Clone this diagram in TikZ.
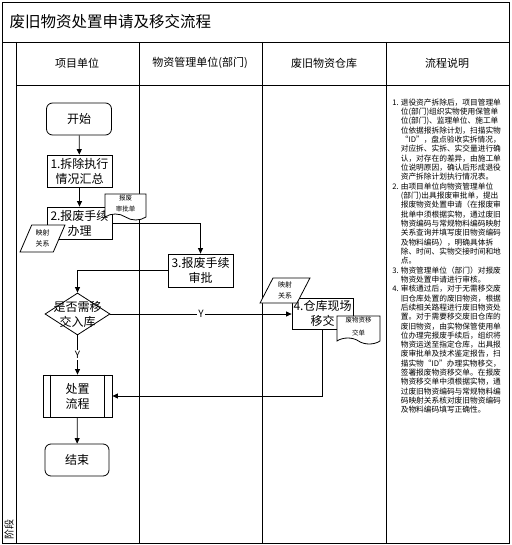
\documentclass[tikz,border=0pt]{standalone}
\usepackage{fontspec}
\setmainfont{Noto Sans CJK SC}
\usetikzlibrary{shapes.geometric,shapes.symbols,arrows.meta}

\tikzset{
  box/.style={draw,fill=white,minimum width=65pt,minimum height=32pt,inner sep=1pt,
    align=center,font=\fontsize{12}{15}\selectfont},
  term/.style={box,rounded corners=6pt},
  choice/.style={diamond,draw,fill=white,minimum width=65pt,minimum height=42pt,inner sep=0pt},
  docu/.style={tape,draw,fill=white,tape bend top=none,tape bend bottom=out and in,
    tape bend height=6pt,inner sep=0pt,align=center,font=\fontsize{6.5}{11}\selectfont},
  datain/.style={trapezium,trapezium left angle=66,trapezium right angle=114,trapezium stretches=true,
    draw,fill=white,inner sep=0pt,align=center,font=\fontsize{7}{10.5}\selectfont},
  arr/.style={-{Triangle[length=5.5pt,width=5pt]}},
  yes/.style={fill=white,inner sep=1pt,font=\fontsize{10}{12}\selectfont}
}

\begin{document}
\begin{tikzpicture}[x=1pt,y=-1pt,line width=0.8pt]
  \useasboundingbox (0,0) rectangle (511,545);
  \draw (2,2) rectangle (509,543);
  \draw (2,42) -- (509,42);
  \draw (16,85) -- (509,85);
  \foreach \x in {16,139,262,386}
    \draw (\x,42) -- (\x,543);
  \node[anchor=west,font=\fontsize{15.5}{18}\selectfont] (title) at (6,22) {废旧物资处置申请及移交流程};
  \foreach \x/\t [count=\k] in {77/项目单位,200/物资管理单位(部门),324/废旧物资仓库,447/流程说明}
    \node[font=\fontsize{11}{13}\selectfont] (head-\k) at (\x,63) {\t};
  \node[rotate=90,font=\fontsize{10}{12}\selectfont] (stage) at (9,529) {阶段};

  \node[term] (start) at (79,119) {开始};
  \node[box] (s1) at (79.5,171) {1.拆除执行\\情况汇总};
  \node[box] (s2) at (79.5,223) {2.报废手续\\办理};
  \node[box,minimum height=33pt] (s3) at (200.5,270.5) {3.报废手续\\审批};
  \node[choice] (ask) at (77.5,314) {};
  \node[align=center,inner sep=0pt,font=\fontsize{12}{15}\selectfont] (ask-t) at (ask) {是否需移\\交入库};
  \node[box,minimum width=61pt,minimum height=31pt] (s4) at (322.5,313.5) {4.仓库现场\\移交};
  \node[box,minimum width=69pt,minimum height=42pt] (deal) at (77.5,396) {处置\\流程};
  \draw ([xshift=8pt]deal.north west) -- ([xshift=8pt]deal.south west);
  \draw ([xshift=-8pt]deal.north east) -- ([xshift=-8pt]deal.south east);
  \node[term,minimum width=64pt] (stop) at (77,460) {结束};

  \node[docu,minimum width=41pt,minimum height=26pt] (form1) at (125.5,204) {报废\\审批单};
  \node[datain,minimum width=45pt,minimum height=27pt] (map1) at (42.5,238.5) {映射\\关系};
  \node[datain,minimum width=50pt,minimum height=25pt] (map2) at (285,290.5) {映射\\关系};
  \node[docu,minimum width=43pt,minimum height=28pt,font=\fontsize{6.5}{13}\selectfont] (form2) at (358.5,327) {废物资移\\交单};

  \draw[arr] (start) -- (s1);
  \draw[arr] (s1) -- (s2);
  \draw[arr] (s2.east) -| (s3.north);
  \draw[arr] (s3.west) -| (ask.north);
  \draw[arr] (ask.east) -- node[yes] {Y} (ask.east -| s4.west);
  \draw[arr] (ask) -- node[yes] {Y} (deal);
  \draw[arr] (s4.south) |- (deal.east);
  \draw[arr] (deal) -- (stop);

  \node[anchor=north west,inner sep=0pt,font=\fontsize{7.7}{9.3}\selectfont] (notes) at (392,98.4) {%
    \begin{tabular}{@{}l@{\hspace{2pt}}l@{}}
    1. & 退役资产拆除后，项目管理单\\
       & 位(部门)组织实物使用保管单\\
       & 位(部门)、监理单位、施工单\\
       & 位依据报拆除计划，扫描实物\\
       & “ID”，盘点验收实拆情况，\\
       & 对应拆、实拆、实交量进行确\\
       & 认，对存在的差异，由施工单\\
       & 位说明原因，确认后形成退役\\
       & 资产拆除计划执行情况表。\\
    2. & 由项目单位向物资管理单位\\
       & (部门)出具报废审批单，提出\\
       & 报废物资处置申请（在报废审\\
       & 批单中须根据实物，通过废旧\\
       & 物资编码与常规物料编码映射\\
       & 关系查询并填写废旧物资编码\\
       & 及物料编码），明确具体拆\\
       & 除、时间、实物交接时间和地\\
       & 点。\\
    3. & 物资管理单位（部门）对报废\\
       & 物资处置申请进行审核。\\
    4. & 审核通过后，对于无需移交废\\
       & 旧仓库处置的废旧物资，根据\\
       & 后续相关路程进行废旧物资处\\
       & 置。对于需要移交废旧仓库的\\
       & 废旧物资，由实物保管使用单\\
       & 位办理完报废手续后，组织将\\
       & 物资运送至指定仓库，出具报\\
       & 废审批单及技术鉴定报告，扫\\
       & 描实物“ID”办理实物移交，\\
       & 签署报废物资移交单。在报废\\
       & 物资移交单中须根据实物，通\\
       & 过废旧物资编码与常规物料编\\
       & 码映射关系核对废旧物资编码\\
       & 及物料编码填写正确性。
    \end{tabular}};
\end{tikzpicture}
\end{document}
